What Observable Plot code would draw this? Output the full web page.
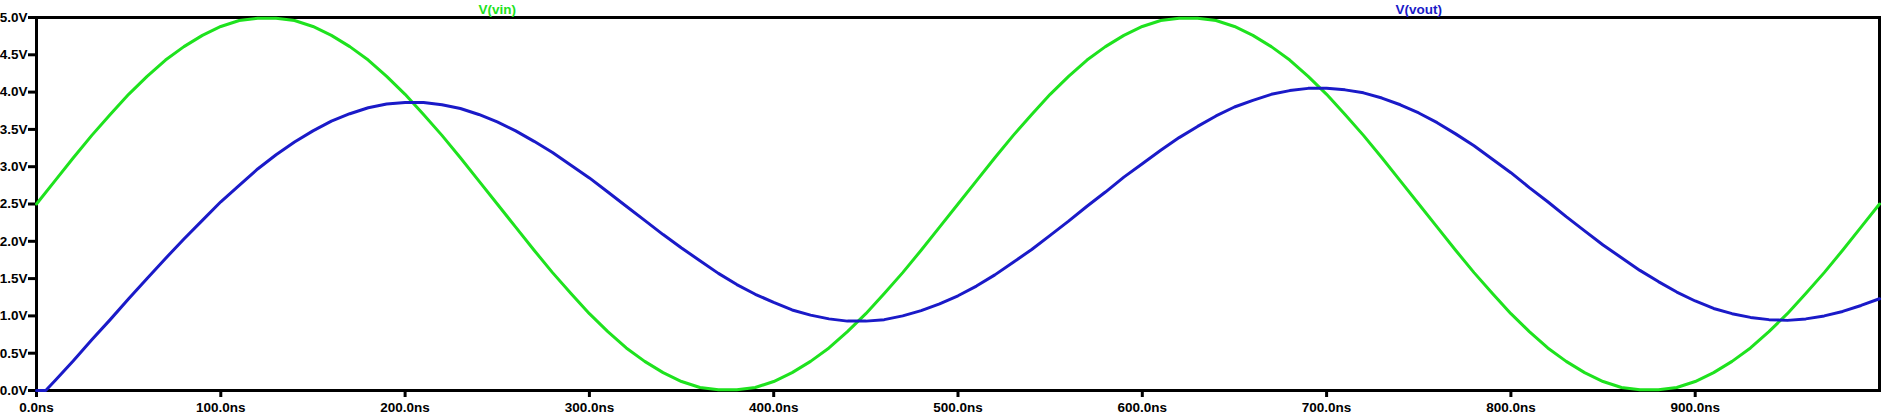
<!DOCTYPE html>
<html>
<head>
<meta charset="utf-8">
<script src="https://cdn.jsdelivr.net/npm/d3@7"></script>
<script src="https://cdn.jsdelivr.net/npm/@observablehq/plot@0.6"></script>
<style>
  html, body { margin: 0; padding: 0; background: #fff; overflow: hidden; }
  #chart svg { display: block; }
</style>
</head>
<body>
<div id="chart"></div>
<script>
// Time samples (ns)
const timeNs = d3.range(0, 1001, 10);
const voutTimeNs = [0, 5, ...d3.range(10, 1001, 10)];

// V(vin) values (V), one per 10 ns
const vin = [
  2.50, 2.81, 3.12, 3.42, 3.70, 3.97, 4.21, 4.43, 4.61, 4.76,
  4.88, 4.96, 4.99, 4.99, 4.96, 4.88, 4.76, 4.61, 4.43, 4.21,
  3.97, 3.70, 3.42, 3.12, 2.81, 2.50, 2.19, 1.88, 1.58, 1.30,
  1.03, 0.79, 0.57, 0.39, 0.24, 0.12, 0.04, 0.01, 0.01, 0.04,
  0.12, 0.24, 0.39, 0.57, 0.79, 1.03, 1.30, 1.58, 1.88, 2.19,
  2.50, 2.81, 3.12, 3.42, 3.70, 3.97, 4.21, 4.43, 4.61, 4.76,
  4.88, 4.96, 4.99, 4.99, 4.96, 4.88, 4.76, 4.61, 4.43, 4.21,
  3.97, 3.70, 3.42, 3.12, 2.81, 2.50, 2.19, 1.88, 1.58, 1.30,
  1.03, 0.79, 0.57, 0.39, 0.24, 0.12, 0.04, 0.01, 0.01, 0.04,
  0.12, 0.24, 0.39, 0.57, 0.79, 1.03, 1.30, 1.58, 1.88, 2.19,
  2.50
];

// V(vout) values (V), at voutTimeNs
const vout = [
  0.00, 0.00,
  0.13, 0.40, 0.68, 0.95, 1.23, 1.50, 1.77, 2.03, 2.28,
  2.53, 2.75, 2.97, 3.16, 3.33, 3.48, 3.61, 3.71, 3.79, 3.84,
  3.86, 3.86, 3.83, 3.78, 3.70, 3.60, 3.48, 3.34, 3.19, 3.02,
  2.85, 2.66, 2.47, 2.28, 2.09, 1.91, 1.74, 1.57, 1.42, 1.29,
  1.18, 1.08, 1.01, 0.96, 0.93, 0.93, 0.95, 1.00, 1.07, 1.16,
  1.27, 1.40, 1.55, 1.72, 1.89, 2.08, 2.27, 2.47, 2.66, 2.86,
  3.04, 3.22, 3.39, 3.54, 3.68, 3.80, 3.89, 3.97, 4.02, 4.05,
  4.05, 4.03, 3.99, 3.92, 3.83, 3.72, 3.59, 3.44, 3.28, 3.10,
  2.92, 2.72, 2.53, 2.33, 2.14, 1.95, 1.78, 1.61, 1.46, 1.32,
  1.20, 1.10, 1.03, 0.98, 0.95, 0.94, 0.96, 1.00, 1.06, 1.14,
  1.23
];

// Axis ticks and labels
const xTicks = [0, 100, 200, 300, 400, 500, 600, 700, 800, 900];
const xTickLabels = ["0.0ns", "100.0ns", "200.0ns", "300.0ns", "400.0ns", "500.0ns", "600.0ns", "700.0ns", "800.0ns", "900.0ns"];
const yTicks = [0, 0.5, 1.0, 1.5, 2.0, 2.5, 3.0, 3.5, 4.0, 4.5, 5.0];
const yTickLabels = ["0.0V", "0.5V", "1.0V", "1.5V", "2.0V", "2.5V", "3.0V", "3.5V", "4.0V", "4.5V", "5.0V"];

// Trace names (legend) and where they sit along the time axis
const seriesNames = ["V(vin)", "V(vout)"];
const seriesLabelAt = [250, 750];
const seriesColors = ["#1ee21e", "#1a1ac8"];

const vinData = timeNs.map((t, i) => ({t, v: vin[i]}));
const voutData = voutTimeNs.map((t, i) => ({t, v: vout[i]}));
const legendData = seriesNames.map((name, i) => ({name, t: seriesLabelAt[i], color: seriesColors[i]}));

const font = "'Liberation Sans', Arial, sans-serif";

const chart = Plot.plot({
  width: 1889,
  height: 415,
  marginLeft: 36,
  marginRight: 10,
  marginTop: 17,
  marginBottom: 25,
  style: {background: "#fff", fontFamily: font, fontWeight: "bold", fontSize: "13.5px", color: "#000"},
  x: {domain: [0, 1000], axis: null},
  y: {domain: [0, 5], axis: null},
  marks: [
    Plot.frame({stroke: "#000", strokeWidth: 3}),
    Plot.axisY(yTicks, {
      label: null,
      tickSize: 8, tickPadding: 1, strokeWidth: 3, stroke: "#000",
      tickFormat: d => yTickLabels[yTicks.indexOf(d)],
      fontSize: 13.5, fontWeight: "bold", fill: "#000", fontVariant: "normal"
    }),
    Plot.axisX(xTicks, {
      label: null,
      tickSize: 7, tickPadding: 5, strokeWidth: 3, stroke: "#000",
      tickFormat: d => xTickLabels[xTicks.indexOf(d)],
      fontSize: 13.5, fontWeight: "bold", fill: "#000", fontVariant: "normal"
    }),
    Plot.line(vinData, {x: "t", y: "v", stroke: seriesColors[0], strokeWidth: 3}),
    Plot.line(voutData, {x: "t", y: "v", stroke: seriesColors[1], strokeWidth: 3}),
    Plot.text(legendData, {
      x: "t", frameAnchor: "top", text: "name", fill: "color",
      lineAnchor: "bottom", dy: -4, fontSize: 13.5, fontWeight: "bold"
    })
  ]
});

document.getElementById("chart").appendChild(chart);
</script>
</body>
</html>
